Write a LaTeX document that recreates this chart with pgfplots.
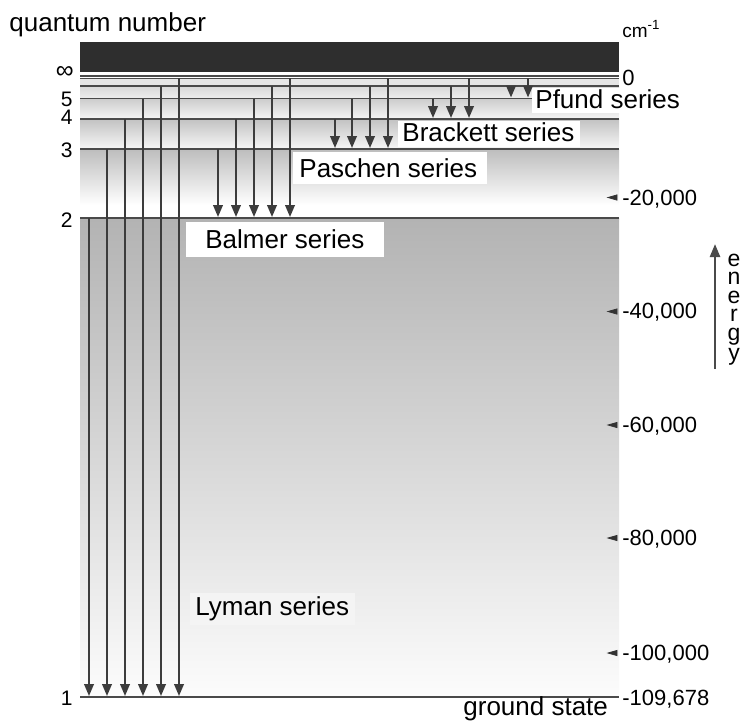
\documentclass[border=0pt]{standalone}
\usepackage{fontspec}
\setmainfont{Liberation Sans}
\usepackage{pgfplots}
\usepackage{pgfplotstable}
\pgfplotsset{compat=1.18}
\usetikzlibrary{arrows.meta}
\definecolor{bandc}{HTML}{2E2E2E}
\definecolor{levelc}{HTML}{4A4A4A}
\definecolor{arrowc}{HTML}{3C3C3C}
\definecolor{markc}{HTML}{333333}

% transitions: x position, upper level (pixel row), length down to lower level
\pgfplotstableread{
x   y0    dy
89  218   478
107 149   547
125 119   577
143 98.5  597.5
161 86    610
179 78    618
218 149   68
236 119   98
254 98.5  118.5
272 86    131
290 78    139
335 119   29
352 98.5  49.5
370 86    62
388 78    70
433 98.5  19.5
451 86    32
469 78    40
511 86    11.5
528 78    19.5
}\transitions

\begin{document}
\begin{tikzpicture}
\begin{axis}[width=371pt,height=362pt,scale only axis,
  xmin=0,xmax=742,ymin=0,ymax=724,y dir=reverse,
  hide axis, clip=false]
% backgrounds
\addplot[draw=none,fill=bandc] coordinates {(80,42) (619,42) (619,72) (80,72)} -- cycle;
\addplot[draw=none,fill={rgb,255:red,230;green,230;blue,230}] coordinates {(80,78.5) (619,78.5) (619,86) (80,86)} -- cycle;
\addplot[draw=none,top color={rgb,255:red,216;green,216;blue,216},bottom color={rgb,255:red,238;green,238;blue,238}] coordinates {(80,86) (619,86) (619,98.5) (80,98.5)} -- cycle;
\addplot[draw=none,top color={rgb,255:red,204;green,204;blue,204},bottom color={rgb,255:red,245;green,245;blue,245}] coordinates {(80,98.5) (619,98.5) (619,119) (80,119)} -- cycle;
\addplot[draw=none,top color={rgb,255:red,194;green,194;blue,194},bottom color={rgb,255:red,247;green,247;blue,247}] coordinates {(80,119) (619,119) (619,149) (80,149)} -- cycle;
\addplot[draw=none,top color={rgb,255:red,189;green,189;blue,189},middle color={rgb,255:red,198;green,198;blue,198},bottom color=white] coordinates {(80,149) (619,149) (619,205) (80,205)} -- cycle;
\addplot[draw=none,top color={rgb,255:red,179;green,179;blue,179},middle color={rgb,255:red,189;green,189;blue,189},bottom color={rgb,255:red,252;green,252;blue,252}] coordinates {(80,218) (619,218) (619,697) (80,697)} -- cycle;
% levels
\pgfplotsinvokeforeach{76,78.5,86,98.5,119,149,218}{
  \addplot[levelc,line width=0.7pt,mark=none] coordinates {(80,#1) (619,#1)};
}
\addplot[levelc,line width=0.6pt,mark=none] coordinates {(80,697) (619,697)};
% label boxes
\addplot[draw=none,fill=white] coordinates {(532,88) (692,88) (692,113) (532,113)} -- cycle;
\addplot[draw=none,fill=white] coordinates {(398,121) (580,121) (580,147) (398,147)} -- cycle;
\addplot[draw=none,fill=white] coordinates {(293,152) (487,152) (487,184) (293,184)} -- cycle;
\addplot[draw=none,fill=white] coordinates {(186,222) (384,222) (384,257) (186,257)} -- cycle;
\addplot[draw=none,fill={rgb,255:red,244;green,244;blue,244}] coordinates {(190,593) (355,593) (355,625) (190,625)} -- cycle;
% transitions
\addplot[quiver={u=0,v=\thisrow{dy}},mark=none,-{Triangle[length=6pt,width=4.8pt]},
  line width=1pt,draw=arrowc,fill=arrowc] table[x=x,y=y0] {\transitions};
% energy arrow
\addplot[-{Triangle[length=6.5pt,width=5pt]},line width=1.2pt,draw=levelc,fill=levelc,mark=none]
  coordinates {(715,369) (715,244)};
% tick markers
\addplot[only marks,mark=triangle*,mark size=3pt,
  mark options={rotate=90,xscale=0.5,fill=markc,draw=markc}]
  coordinates {(614,197.5) (614,311.5) (614,425) (614,538) (614,653)};
% texts
\node[anchor=base west,inner sep=0,font=\fontsize{13}{15}\selectfont] at (axis cs:9,31) {quantum number};
\node[anchor=base west,inner sep=0,font=\fontsize{9.5}{11}\selectfont] at (axis cs:622,37) {cm\textsuperscript{-1}};
\node[anchor=base west,inner sep=0,font=\fontsize{13}{15}\selectfont] at (axis cs:535,108) {Pfund series};
\node[anchor=base west,inner sep=0,font=\fontsize{13}{15}\selectfont] at (axis cs:402,141.5) {Brackett series};
\node[anchor=base west,inner sep=0,font=\fontsize{13}{15}\selectfont] at (axis cs:299,177) {Paschen series};
\node[anchor=base west,inner sep=0,font=\fontsize{13}{15}\selectfont] at (axis cs:205,248) {Balmer series};
\node[anchor=base west,inner sep=0,font=\fontsize{13}{15}\selectfont] at (axis cs:195,615) {Lyman series};
\node[anchor=base west,inner sep=0,font=\fontsize{13}{15}\selectfont] at (axis cs:463,715) {ground state};
% level numbers
\node[anchor=east,inner sep=0,font=\fontsize{12.5}{14}\selectfont] at (axis cs:74,72) {∞};
\node[anchor=base east,inner sep=0,font=\fontsize{10.5}{12}\selectfont] at (axis cs:73,106.5) {5};
\node[anchor=base east,inner sep=0,font=\fontsize{10.5}{12}\selectfont] at (axis cs:73,124.5) {4};
\node[anchor=base east,inner sep=0,font=\fontsize{10.5}{12}\selectfont] at (axis cs:73,157) {3};
\node[anchor=base east,inner sep=0,font=\fontsize{10.5}{12}\selectfont] at (axis cs:73,227) {2};
\node[anchor=base east,inner sep=0,font=\fontsize{10.5}{12}\selectfont] at (axis cs:73,705) {1};
% energy values
\node[anchor=base west,inner sep=0,font=\fontsize{11}{12}\selectfont] at (axis cs:622,85) {0};
\node[anchor=base west,inner sep=0,font=\fontsize{11}{12}\selectfont] at (axis cs:622,205) {-20,000};
\node[anchor=base west,inner sep=0,font=\fontsize{11}{12}\selectfont] at (axis cs:622,318.5) {-40,000};
\node[anchor=base west,inner sep=0,font=\fontsize{11}{12}\selectfont] at (axis cs:622,432) {-60,000};
\node[anchor=base west,inner sep=0,font=\fontsize{11}{12}\selectfont] at (axis cs:622,545) {-80,000};
\node[anchor=base west,inner sep=0,font=\fontsize{11}{12}\selectfont] at (axis cs:622,660) {-100,000};
\node[anchor=base west,inner sep=0,font=\fontsize{11}{12}\selectfont] at (axis cs:622,705) {-109,678};
% energy word
\tikzset{eletter/.style={anchor=base,inner sep=0,text height=1ex,text depth=0pt,font=\fontsize{11.5}{12}\selectfont}}
\node[eletter] at (axis cs:734,266) {e};
\node[eletter] at (axis cs:734,284.5) {n};
\node[eletter] at (axis cs:734,303) {e};
\node[eletter] at (axis cs:734,321.5) {r};
\node[eletter] at (axis cs:734,340) {g};
\node[eletter] at (axis cs:734,360) {y};
\end{axis}
\pgfresetboundingbox
\path (0,0) rectangle (371pt,362pt);
\end{tikzpicture}
\end{document}
